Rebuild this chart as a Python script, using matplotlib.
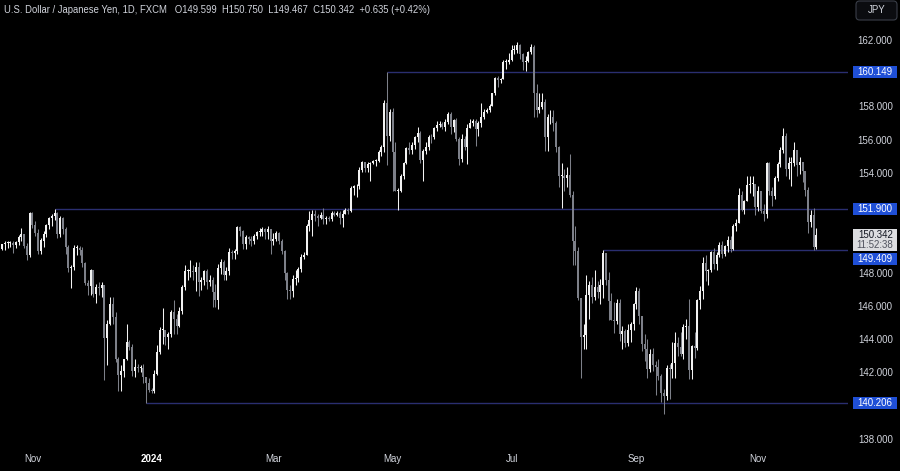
import matplotlib
matplotlib.use("Agg")
import matplotlib.pyplot as plt
from matplotlib.patches import Rectangle, FancyBboxPatch

plt.rcParams['font.family'] = ['Liberation Sans', 'DejaVu Sans']

title = "U.S. Dollar / Japanese Yen, 1D, FXCM   O149.599  H150.750  L149.467  C150.342  +0.635 (+0.42%)"

# daily bars, 17 Oct 2023 -> 2 Dec 2024 (weekdays), open = previous close
first_open = 149.50
closes = [
    # Oct 2023
    149.77, 149.85, 149.85, 149.86, 149.70, 149.90, 150.20, 150.37, 149.65, 149.12, 151.68,
    # Nov 2023
    150.95, 150.48, 149.38, 150.00, 150.38, 150.95, 151.35, 151.50, 151.68, 150.38, 151.36,
    150.70, 149.58, 148.35, 148.38, 149.55, 149.55, 149.45, 148.65, 147.45, 147.25, 148.20,
    # Dec 2023
    146.80, 147.20, 147.15, 147.35, 144.15, 144.95, 146.20, 145.40, 142.90, 141.90, 142.15,
    142.85, 143.90, 143.60, 142.15, 142.40, 142.35, 142.35, 141.80, 141.40, 141.00,
    # Jan 2024
    140.95, 142.00, 143.30, 144.60, 144.60, 144.20, 144.40, 145.70, 145.30, 144.85, 145.75,
    147.20, 148.15, 148.15, 148.15, 148.10, 148.40, 147.50, 147.65, 148.15, 147.50, 147.60, 146.90,
    # Feb
    146.45, 148.35, 148.70, 147.90, 148.15, 149.30, 149.25, 149.35, 150.80, 150.60, 149.80,
    150.20, 150.10, 149.95, 150.30, 150.50, 150.50, 150.70, 150.50, 150.70, 149.95,
    # Mar
    150.10, 150.45, 150.00, 149.35, 148.05, 147.05, 146.95, 147.70, 147.75, 148.30, 149.00,
    149.10, 150.85, 151.25, 151.60, 151.45, 151.35, 151.55, 151.30, 151.35, 151.30,
    # Apr
    151.65, 151.55, 151.65, 151.35, 151.60, 151.85, 151.75, 153.15, 153.25, 153.25, 154.25,
    154.70, 154.35, 154.60, 154.65, 154.80, 154.80, 155.35, 155.60, 158.30, 156.30, 157.75,
    # May
    155.30, 153.00, 153.00, 153.90, 154.65, 155.55, 155.45, 155.75, 156.20, 156.45, 154.85,
    155.40, 155.65, 156.25, 156.20, 156.75, 156.95, 157.00, 156.85, 157.15, 157.60, 156.80, 157.25,
    # Jun
    156.10, 154.90, 156.10, 155.60, 156.75, 157.05, 157.20, 156.70, 157.05, 157.40,
    157.75, 157.85, 158.10, 158.85, 159.80, 159.65, 159.70, 160.75, 160.75, 160.85,
    # Jul
    161.45, 161.45, 161.75, 161.20, 160.75, 160.80, 161.35, 161.65, 158.90, 157.85, 158.05,
    158.35, 156.20, 157.40, 157.45, 157.05, 155.60, 153.90, 153.90, 153.75, 153.95, 152.75, 149.95,
    # Aug
    149.35, 146.55, 144.20, 144.30, 146.75, 147.30, 146.60, 147.20, 146.90, 147.30, 149.25,
    147.60, 146.35, 145.20, 145.15, 146.25, 144.35, 144.55, 143.85, 144.60, 145.00, 146.20,
    # Sep
    146.95, 145.45, 143.75, 143.45, 142.30, 143.15, 142.50, 142.40, 141.85, 140.85, 140.65,
    142.35, 142.30, 142.65, 143.85, 143.60, 143.20, 144.80, 144.85, 142.20, 143.65,
    # Oct
    143.55, 146.45, 146.95, 148.65, 148.15, 148.20, 149.30, 148.60, 149.15, 149.75, 149.20,
    149.65, 150.05, 149.50, 150.85, 151.05, 152.75, 151.85, 152.35, 153.35, 153.40, 153.40, 152.00,
    # Nov
    152.95, 151.80, 151.60, 154.65, 152.95, 152.65, 153.75, 154.60, 155.45, 156.30, 154.30,
    154.65, 154.65, 155.45, 154.55, 154.75, 154.20, 153.05, 151.10, 151.55, 149.60,
    # Dec 2 (live)
    150.342,
]
highs = [
    149.80, 149.95, 149.95, 150.00, 150.00, 150.00, 150.35, 150.77, 150.40, 149.87, 151.72,
    151.72, 151.16, 150.70, 150.15, 150.60, 151.00, 151.40, 151.60, 151.91, 151.72, 151.45,
    151.40, 150.80, 149.75, 148.55, 149.75, 149.72, 149.67, 149.58, 148.70, 147.60, 148.30,
    148.20, 147.40, 147.48, 147.50, 147.30, 145.20, 146.60, 146.60, 145.70, 143.00, 142.50,
    142.90, 144.95, 144.00, 143.75, 142.90, 142.60, 142.50, 142.55, 141.70, 141.70,
    141.10, 142.20, 143.70, 144.80, 145.95, 144.60, 144.50, 145.80, 146.40, 145.60, 146.00,
    147.30, 148.50, 148.30, 148.80, 148.50, 148.70, 148.70, 147.80, 148.20, 148.30, 147.90, 147.80,
    147.40, 148.60, 148.90, 148.80, 148.40, 149.55, 149.45, 149.50, 150.90, 150.90, 150.65,
    150.35, 150.30, 150.25, 150.40, 150.60, 150.75, 150.80, 150.75, 150.85, 150.70,
    150.45, 150.60, 150.50, 150.10, 149.40, 148.10, 147.30, 147.90, 148.20, 148.40, 149.20,
    149.30, 151.00, 151.80, 151.85, 151.85, 151.60, 151.70, 151.97, 151.45, 151.50,
    151.75, 151.80, 151.80, 151.75, 151.85, 151.95, 151.95, 153.25, 153.35, 153.40, 154.40,
    154.80, 154.75, 154.70, 154.70, 154.85, 154.90, 155.45, 155.75, 158.45, 160.15, 157.90,
    157.95, 155.95, 153.15, 154.00, 154.75, 155.65, 155.95, 155.95, 156.30, 156.80, 156.60,
    155.50, 155.90, 156.35, 156.40, 156.85, 157.20, 157.20, 157.10, 157.30, 157.70, 157.70, 157.30,
    157.35, 156.20, 156.40, 156.30, 157.00, 157.30, 157.30, 157.30, 157.20, 158.25,
    157.90, 157.95, 158.20, 158.90, 159.85, 159.90, 159.75, 160.85, 160.90, 161.25,
    161.75, 161.75, 161.95, 161.80, 161.30, 161.10, 161.40, 161.80, 161.75, 159.40, 158.90,
    158.85, 158.50, 157.60, 157.85, 157.85, 157.20, 155.70, 154.65, 154.30, 154.40, 155.20, 153.00,
    150.90, 149.60, 146.50, 145.00, 147.90, 147.55, 147.80, 148.20, 147.55, 147.70, 149.41,
    149.20, 148.10, 146.85, 146.30, 146.50, 146.50, 144.85, 144.70, 144.95, 145.10, 146.25,
    147.20, 147.15, 145.45, 144.35, 144.10, 143.50, 143.55, 142.75, 142.90, 142.00, 141.05,
    142.50, 142.60, 143.90, 144.50, 144.20, 144.50, 145.00, 145.30, 146.50, 143.70,
    144.50, 146.50, 147.25, 149.00, 149.10, 148.30, 149.35, 149.55, 149.30, 149.90, 149.95,
    149.75, 150.30, 150.30, 151.00, 151.30, 153.15, 152.95, 152.45, 153.90, 153.90, 153.85, 153.25,
    153.25, 152.75, 152.20, 154.70, 154.70, 153.20, 153.90, 154.70, 155.60, 156.75, 156.45,
    155.00, 155.00, 155.90, 155.00, 155.00, 154.70, 154.20, 153.20, 151.85, 151.95,
    150.750,
]
lows = [
    149.40, 149.45, 149.55, 149.60, 149.25, 149.55, 149.75, 150.00, 149.55, 148.80, 149.00,
    150.76, 150.30, 149.20, 149.20, 149.60, 150.20, 150.70, 150.90, 151.25, 150.15, 150.20,
    150.40, 149.20, 148.10, 147.15, 148.20, 149.10, 149.15, 148.40, 147.30, 146.70, 146.70,
    146.60, 146.25, 146.70, 146.60, 141.60, 142.50, 144.90, 145.00, 142.70, 140.95, 140.95,
    141.80, 142.80, 143.40, 141.85, 141.80, 142.10, 142.10, 141.45, 140.21, 140.90,
    140.80, 140.80, 141.90, 143.20, 143.80, 143.70, 143.45, 144.20, 144.35, 144.35, 144.80,
    145.60, 147.00, 147.60, 147.80, 147.65, 146.98, 146.65, 147.05, 147.30, 147.10, 147.25, 146.00,
    146.00, 145.90, 148.00, 147.65, 147.60, 147.90, 148.90, 148.90, 149.20, 150.30, 149.50,
    149.50, 149.80, 149.65, 149.80, 150.10, 150.30, 150.30, 150.10, 150.10, 149.20,
    149.70, 150.00, 149.80, 149.20, 147.60, 146.50, 146.50, 146.60, 147.30, 147.50, 148.10,
    148.90, 149.30, 150.60, 150.30, 151.20, 150.90, 151.30, 151.00, 151.00, 151.20,
    151.20, 151.45, 151.45, 151.00, 150.80, 151.60, 151.60, 151.70, 152.75, 152.60, 153.10,
    154.10, 154.15, 154.10, 153.60, 154.60, 154.50, 154.75, 155.10, 155.30, 154.55, 156.00,
    153.00, 152.95, 151.86, 152.90, 153.70, 154.60, 155.20, 155.20, 155.50, 155.95, 154.65,
    153.60, 155.20, 155.45, 155.85, 156.10, 156.60, 156.80, 156.70, 156.60, 157.00, 156.40, 156.50,
    156.00, 154.55, 154.70, 155.45, 154.60, 156.75, 156.90, 155.70, 156.30, 156.80,
    157.30, 157.65, 157.75, 158.10, 158.75, 159.25, 159.45, 159.70, 160.30, 160.60,
    160.80, 161.20, 161.25, 160.90, 160.25, 160.20, 160.75, 161.20, 157.40, 157.40, 157.65,
    157.90, 155.40, 155.40, 157.00, 156.60, 155.30, 153.20, 151.95, 153.00, 153.20, 152.60, 148.50,
    148.50, 146.40, 141.70, 143.50, 143.50, 145.30, 146.25, 146.40, 146.55, 146.20, 146.55,
    147.30, 145.20, 145.20, 144.45, 144.95, 143.95, 143.45, 143.60, 143.65, 143.90, 144.60,
    145.90, 145.00, 143.35, 142.75, 141.75, 142.10, 142.15, 140.70, 141.60, 140.30, 139.58,
    140.40, 140.45, 141.75, 141.75, 143.05, 143.05, 142.90, 144.10, 141.65, 141.65,
    142.95, 143.40, 145.90, 146.50, 147.55, 147.35, 148.10, 148.30, 148.20, 149.00, 148.95,
    149.05, 149.30, 149.30, 149.45, 150.60, 151.05, 151.75, 151.60, 152.45, 152.85, 152.70, 151.55,
    151.75, 151.65, 151.20, 151.35, 152.75, 152.10, 152.50, 153.60, 154.40, 155.25, 153.85,
    153.70, 153.30, 154.50, 153.90, 154.00, 153.50, 152.70, 150.45, 150.80, 149.45,
    149.467,
]
assert len(closes) == len(highs) == len(lows)

month_idx = [11, 54, 98, 141, 184, 229, 273]
month_labels = ['Nov', '2024', 'Mar', 'May', 'Jul', 'Sep', 'Nov']

# horizontal levels: start bar, price
ray_start = [139, 19, 217, 52]
ray_price = [160.149, 151.900, 149.409, 140.206]
ray_label_shift = [0, 0, 9, 0]   # px, label pushed down so it does not overlap

price_ticks = [162, 158, 156, 154, 148, 146, 144, 142, 138]
last_price = 150.342
countdown = "11:52:38"

W, H = 900, 471
plot_right = 848
plot_bottom = 448
ppu = 16.625      # px per yen
bar_px = 2.77     # px per bar
ytop = 162 + 41 / ppu
ybot = 162 - (plot_bottom - 41) / ppu

fig = plt.figure(figsize=(9, 4.71), dpi=100, facecolor='black')
ax = fig.add_axes([0, 1 - plot_bottom / H, plot_right / W, plot_bottom / H])
pax = fig.add_axes([plot_right / W, 1 - plot_bottom / H, (W - plot_right) / W, plot_bottom / H])

for a in (ax, pax):
    a.set_facecolor('black')
    a.set_ylim(ybot, ytop)
    for s in a.spines.values():
        s.set_visible(False)
ax.set_xlim(-2 / bar_px, (plot_right - 2) / bar_px)
pax.set_xlim(0, W - plot_right)
pax.axis('off')

# candles
up_col, down_col = '#f2f2f2', '#7d8089'
opens = [first_open] + closes[:-1]
for i, (o, h, l, c) in enumerate(zip(opens, highs, lows, closes)):
    col = up_col if c >= o else down_col
    ax.vlines(i, min(l, o, c), max(h, o, c), color=col, lw=0.75, zorder=3)
    ax.bar(i, max(abs(c - o), 0.05), bottom=min(o, c), width=0.72,
           color=col, linewidth=0, zorder=4)

# levels
line_col = '#2a2e70'
xmax = ax.get_xlim()[1]
for s, p in zip(ray_start, ray_price):
    ax.hlines(p, s, xmax, color=line_col, lw=1.0, zorder=2)

# x axis
ax.set_yticks([])
ax.set_xticks(month_idx)
ax.set_xticklabels(month_labels)
ax.tick_params(axis='x', length=0, pad=4.5, labelsize=7, colors='#d1d4dc')
ax.get_xticklabels()[1].set_fontweight('bold')
ax.get_xticklabels()[1].set_color('#ffffff')

# price scale
txt_col = '#d1d4dc'
for p in price_ticks:
    pax.text(44.7, p, f'{p:.3f}', ha='right', va='center', fontsize=7, color=txt_col)

for p, sh in zip(ray_price, ray_label_shift):
    yc = p - sh / ppu
    pax.add_patch(Rectangle((4.7, yc - 6 / ppu), 44, 12 / ppu, facecolor='#1f4fd6',
                            edgecolor='none', clip_on=False))
    pax.text(44.7, yc, f'{p:.3f}', ha='right', va='center', fontsize=7, color='white')

pax.add_patch(Rectangle((4.7, last_price - 16.5 / ppu), 44, 22 / ppu, facecolor='#dcdde0',
                        edgecolor='none', clip_on=False))
pax.text(44.7, last_price, f'{last_price:.3f}', ha='right', va='center', fontsize=7, color='#131722')
pax.text(44.7, last_price - 10 / ppu, countdown, ha='right', va='center', fontsize=7, color='#50535e')

# JPY button
fig.add_artist(FancyBboxPatch((856 / W, 1 - 20 / H), 41 / W, 19 / H,
                              boxstyle='round,pad=0,rounding_size=0.004', mutation_aspect=W / H,
                              transform=fig.transFigure, facecolor='#0b0c10',
                              edgecolor='#3a3e48', lw=0.8))
fig.text(876.5 / W, 1 - 10 / H, 'JPY', ha='center', va='center', fontsize=7, color='#d1d4dc')

# title
fig.text(4 / W, 1 - 10 / H, title, ha='left', va='center', fontsize=6.85, color='#d1d4dc')

fig.savefig('out.png', dpi=100, facecolor='black')
